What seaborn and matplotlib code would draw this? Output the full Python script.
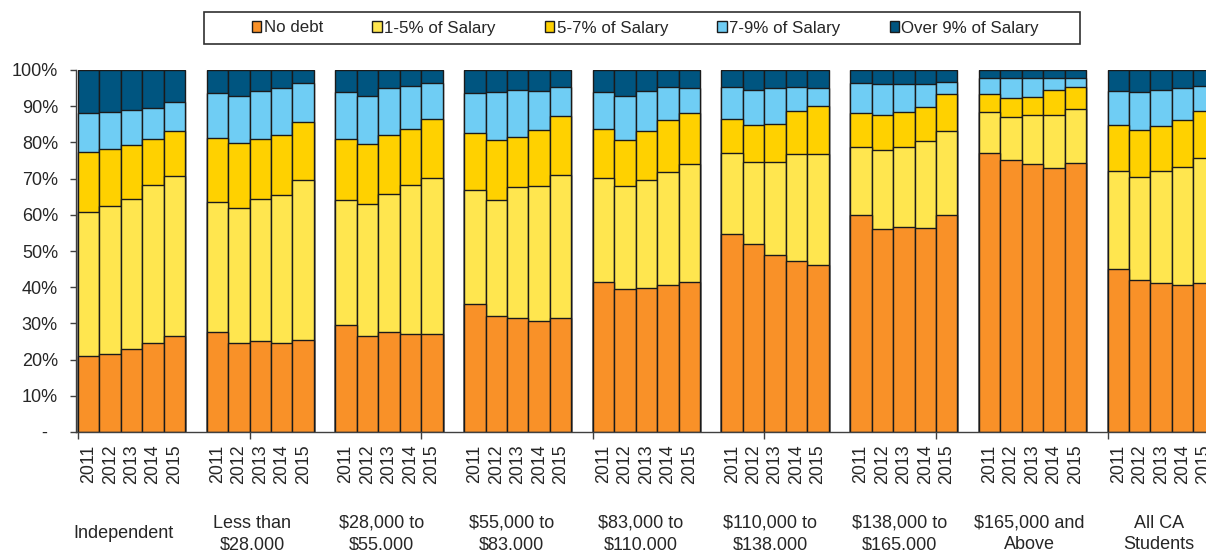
import numpy as np
import pandas as pd
import matplotlib.pyplot as plt
from matplotlib.patches import Patch, Rectangle
import seaborn as sns

# grupos de ingreso y años
groups = ['Independent', 'Less than\n$28,000', '$28,000 to\n$55,000', '$55,000 to\n$83,000',
          '$83,000 to\n$110,000', '$110,000 to\n$138,000', '$138,000 to\n$165,000',
          '$165,000 and\nAbove', 'All CA\nStudents']
years = ['2011', '2012', '2013', '2014', '2015']
categories = ['No debt', '1-5% of Salary', '5-7% of Salary', '7-9% of Salary', 'Over 9% of Salary']
colors = ['#F99128', '#FFE64F', '#FFD100', '#6FCDF4', '#005580']

# porcentajes por grupo (5 años cada fila)
no_debt = [21.0, 21.5, 23.0, 24.7, 26.5,
           27.5, 24.5, 25.2, 24.7, 25.5,
           29.6, 26.5, 27.5, 27.1, 27.1,
           35.3, 32.0, 31.4, 30.7, 31.4,
           41.3, 39.5, 39.7, 40.6, 41.3,
           54.8, 51.9, 48.9, 47.3, 46.2,
           60.0, 56.0, 56.7, 56.3, 60.0,
           77.1, 75.1, 73.9, 72.9, 74.2,
           45.1, 42.0, 41.2, 40.5, 41.2]
pct_1_5 = [39.9, 40.8, 41.5, 43.6, 44.2,
           35.9, 37.5, 39.3, 40.8, 44.2,
           34.5, 36.6, 38.3, 41.0, 43.0,
           31.6, 32.0, 36.3, 37.3, 39.7,
           28.9, 28.5, 30.0, 31.2, 32.7,
           22.3, 22.7, 25.7, 29.4, 30.5,
           18.8, 21.8, 22.1, 24.0, 23.1,
           11.4, 11.8, 13.6, 14.8, 14.9,
           27.0, 28.5, 30.9, 32.7, 34.6]
pct_5_7 = [16.5, 15.8, 14.7, 12.6, 12.4,
           17.9, 17.9, 16.4, 16.5, 15.9,
           16.9, 16.4, 16.2, 15.6, 16.4,
           15.7, 16.6, 13.9, 15.4, 16.2,
           13.5, 12.6, 13.4, 14.3, 14.0,
           9.5, 10.3, 10.6, 12.0, 13.4,
           9.2, 9.7, 9.5, 9.5, 10.2,
           4.9, 5.3, 5.0, 6.7, 6.1,
           12.7, 12.9, 12.4, 12.9, 12.9]
pct_7_9 = [10.6, 10.2, 9.7, 8.5, 8.0,
           12.4, 13.0, 13.4, 12.9, 10.8,
           12.9, 13.3, 12.9, 12.0, 9.8,
           11.0, 13.3, 13.0, 10.8, 8.0,
           10.2, 12.3, 11.2, 9.1, 6.9,
           8.6, 9.7, 9.7, 6.6, 4.9,
           8.5, 8.5, 7.8, 6.3, 3.3,
           4.5, 5.6, 5.3, 3.5, 2.7,
           9.5, 10.5, 10.1, 8.9, 6.9]
pct_over_9 = [12.0, 11.7, 11.1, 10.6, 8.9,
              6.3, 7.1, 5.7, 5.1, 3.6,
              6.1, 7.2, 5.1, 4.3, 3.7,
              6.4, 6.1, 5.4, 5.8, 4.7,
              6.1, 7.1, 5.7, 4.8, 5.1,
              4.8, 5.4, 5.1, 4.7, 5.0,
              3.5, 4.0, 3.9, 3.9, 3.4,
              2.1, 2.2, 2.2, 2.1, 2.1,
              5.7, 6.1, 5.4, 5.0, 4.4]

series = [no_debt, pct_1_5, pct_5_7, pct_7_9, pct_over_9]

# tabla larga: una fila por barra y categoría
rows = []
for gi, g in enumerate(groups):
    for yi, y in enumerate(years):
        k = gi * len(years) + yi
        pos = gi * (len(years) + 1) + yi   # hueco de una barra entre grupos
        for c, vals in zip(categories, series):
            rows.append({'group': g, 'year': y, 'pos': pos, 'cat': c, 'share': vals[k]})
df = pd.DataFrame(rows)
df['top'] = df.groupby('pos')['share'].cumsum()

sns.set_style('white')
plt.rcParams['font.family'] = ['Liberation Sans', 'DejaVu Sans']

fig = plt.figure(figsize=(12.06, 5.5), dpi=100)
ax = fig.add_axes([76 / 1206, 118 / 550, 1 - 76 / 1206, 362 / 550])

# apilado: se dibuja de arriba hacia abajo con los acumulados
for c, col in reversed(list(zip(categories, colors))):
    sns.barplot(data=df[df['cat'] == c], x='pos', y='top', native_scale=True,
                width=1.0, color=col, edgecolor='#1a1a1a', linewidth=1.0,
                errorbar=None, saturation=1, ax=ax)

positions = sorted(df['pos'].unique())
ax.set_xlim(-0.593, 52.09)
ax.set_ylim(0, 100)
ax.set_xlabel('')
ax.set_ylabel('')

ax.set_xticks(positions)
ax.set_xticklabels(years * len(groups), rotation=90, fontsize=12.8)
ax.set_xticks(np.arange(-0.5, 53, 8), minor=True)
ax.tick_params(axis='x', which='major', length=0, pad=9)
ax.tick_params(axis='x', which='minor', length=5, width=1, color='#404040', bottom=True)

yt = np.arange(0, 101, 10)
ax.set_yticks(yt)
ax.set_yticklabels(['-  '] + [f'{v}%' for v in yt[1:]], fontsize=13)
ax.tick_params(axis='y', length=4, width=1, color='#404040', left=True, pad=9)

for s in ['top', 'right']:
    ax.spines[s].set_visible(False)
for s in ['left', 'bottom']:
    ax.spines[s].set_color('#404040')
    ax.spines[s].set_linewidth(1)

# etiquetas de grupo
trans = ax.get_xaxis_transform()
label_y = -(534 - 432) / 362
for gi, g in enumerate(groups):
    cx = gi * (len(years) + 1) + (len(years) - 1) / 2 - 0.4 + 0.035 * gi
    ax.text(cx, label_y, g, transform=trans, ha='center', va='center', fontsize=13,
            linespacing=1.35, clip_on=False)

# leyenda
handles = [Patch(facecolor=col, edgecolor='#1a1a1a', linewidth=1) for col in colors]
fig.legend(handles, categories, loc='center', bbox_to_anchor=(645.5 / 1206, 1 - 28 / 550),
           ncol=5, frameon=False, fontsize=12.2, handlelength=0.55, handleheight=0.55,
           handletextpad=0.15, columnspacing=2.9, borderpad=0)
fig.add_artist(Rectangle((204 / 1206, 1 - 44 / 550), 876 / 1206, 32 / 550,
                         transform=fig.transFigure, fill=False, edgecolor='#303030', linewidth=1.2))

fig.savefig('out.png', dpi=100)
